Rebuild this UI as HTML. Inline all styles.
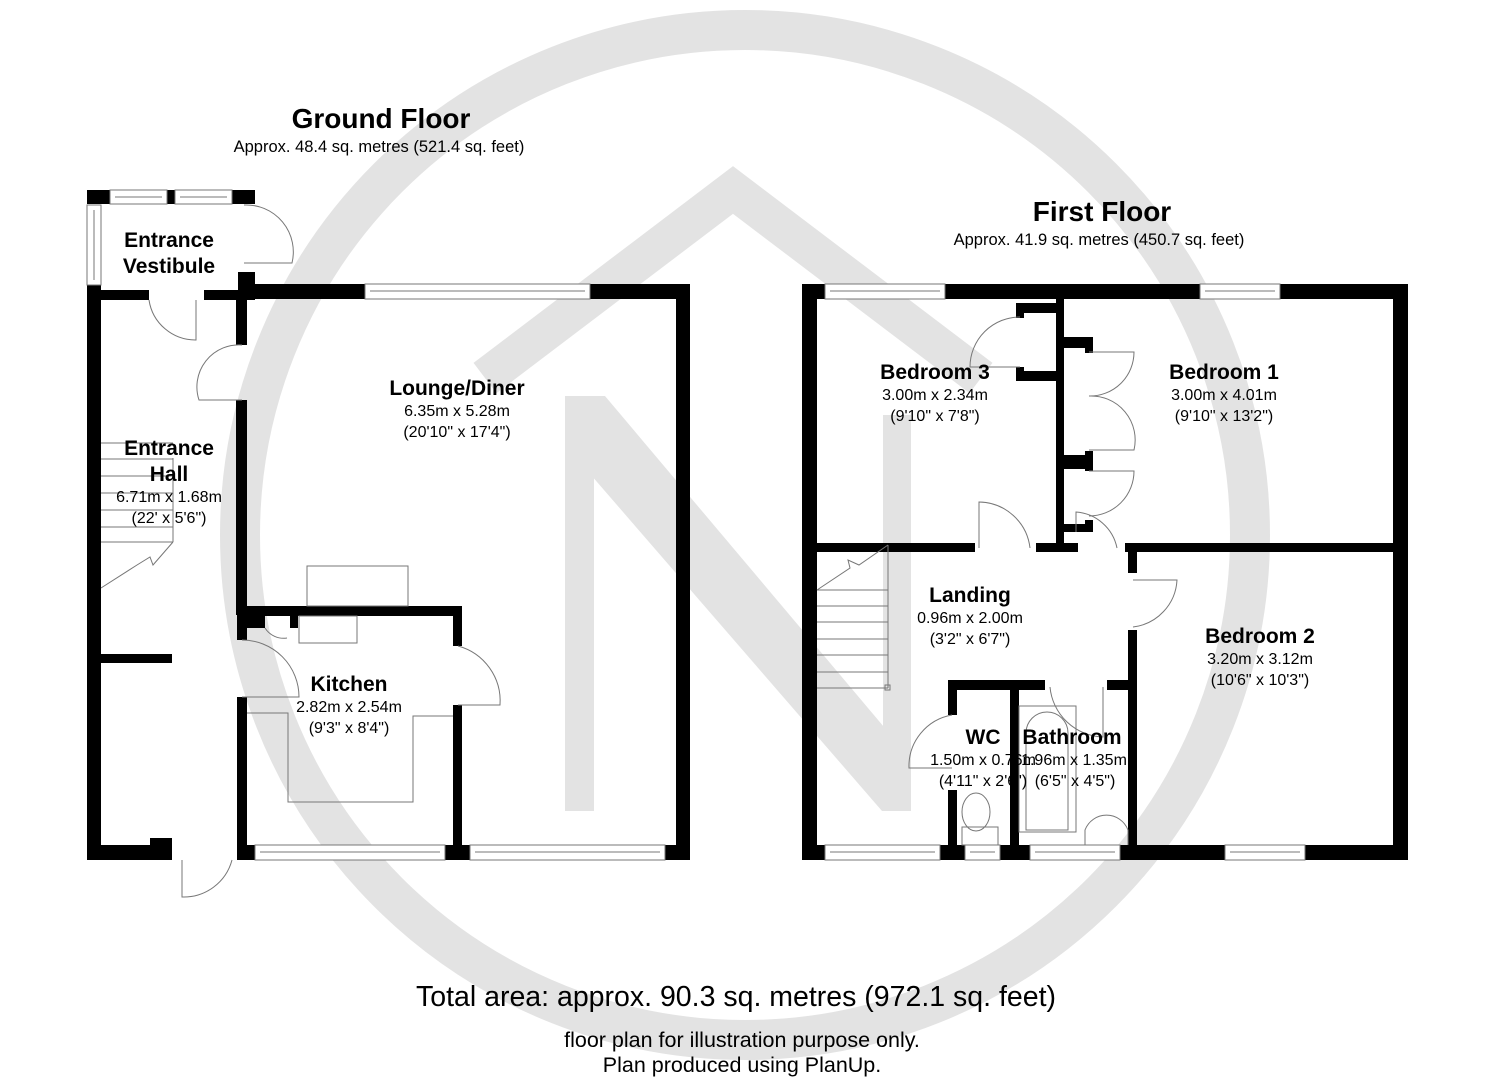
<!DOCTYPE html>
<html><head><meta charset="utf-8"><style>
html,body{margin:0;padding:0;background:#fff}
svg{display:block}
text{font-family:"Liberation Sans",Arial,sans-serif;fill:#000}
.b{font-weight:bold;font-size:21px}
.d{font-size:16px}
.w{fill:#000}
.win{fill:#fff;stroke:#777;stroke-width:1}
.l{fill:none;stroke:#777;stroke-width:1}
</style></head><body>
<svg width="1485" height="1080" viewBox="0 0 1485 1080" xmlns="http://www.w3.org/2000/svg">
<!-- watermark -->
<circle cx="745" cy="535" r="505" fill="none" stroke="#e3e3e3" stroke-width="40"/>
<g fill="#e3e3e3">
<polyline points="485,378 733,190 981,378" fill="none" stroke="#e3e3e3" stroke-width="38"/>
<rect x="565" y="396" width="29" height="415"/>
<rect x="883" y="415" width="28" height="396"/>
<polygon points="565,396 605,396 911,759 911,811 882,811 565,445"/>
</g>

<!-- titles -->
<text x="381" y="128" text-anchor="middle" font-size="28" font-weight="bold">Ground Floor</text>
<text x="379" y="152" text-anchor="middle" font-size="16.5">Approx. 48.4 sq. metres (521.4 sq. feet)</text>
<text x="1102" y="221" text-anchor="middle" font-size="28" font-weight="bold">First Floor</text>
<text x="1099" y="245" text-anchor="middle" font-size="16.5">Approx. 41.9 sq. metres (450.7 sq. feet)</text>
<text x="736" y="1006" text-anchor="middle" font-size="28.5">Total area: approx. 90.3 sq. metres (972.1 sq. feet)</text>
<text x="742" y="1047" text-anchor="middle" font-size="21.5">floor plan for illustration purpose only.</text>
<text x="742" y="1072" text-anchor="middle" font-size="21.5">Plan produced using PlanUp.</text>

<!-- ===== GROUND FLOOR ===== -->
<g class="w">
<rect x="87" y="190" width="23" height="14"/>
<rect x="167" y="190" width="8" height="14"/>
<rect x="232" y="190" width="23" height="14"/>
<rect x="87" y="285" width="14" height="575"/>
<rect x="101" y="290" width="48" height="10"/>
<rect x="204" y="290" width="34" height="10"/>
<rect x="238" y="272" width="17" height="28"/>
<rect x="238" y="284" width="127" height="15"/>
<rect x="590" y="284" width="100" height="15"/>
<rect x="676" y="284" width="14" height="576"/>
<rect x="236" y="290" width="11" height="55"/>
<rect x="236" y="400" width="11" height="215"/>
<rect x="237" y="606" width="225" height="10"/>
<rect x="453" y="606" width="9" height="40"/>
<rect x="453" y="705" width="9" height="155"/>
<rect x="237" y="615" width="10" height="25"/>
<rect x="237" y="697" width="10" height="163"/>
<rect x="240" y="845" width="15" height="15"/>
<rect x="445" y="845" width="25" height="15"/>
<rect x="665" y="845" width="25" height="15"/>
<rect x="87" y="845" width="70" height="15"/>
<rect x="150" y="838" width="22" height="22"/>
<rect x="101" y="654" width="71" height="9"/>
<rect x="247" y="616" width="18" height="12"/>
<rect x="290" y="616" width="8" height="12"/>
</g>
<rect class="win" x="110" y="190" width="57" height="14"/><line class="l" x1="115" y1="197" x2="162" y2="197"/>
<rect class="win" x="175" y="190" width="57" height="14"/><line class="l" x1="180" y1="197" x2="227" y2="197"/>
<rect class="win" x="87" y="205" width="14" height="80"/><line class="l" x1="94" y1="210" x2="94" y2="280"/>
<rect class="win" x="365" y="284" width="225" height="15"/><line class="l" x1="370" y1="291" x2="585" y2="291"/>
<rect class="win" x="255" y="845" width="190" height="15"/><line class="l" x1="260" y1="852" x2="440" y2="852"/>
<rect class="win" x="470" y="845" width="195" height="15"/><line class="l" x1="475" y1="852" x2="660" y2="852"/>
<path class="l" d="M244 205 A47 47 0 0 1 292 263 L244 263"/>
<path class="l" d="M149 300 A47 47 0 0 0 196 340 L196 300"/>
<path class="l" d="M242 345 A42 42 0 0 0 199 400 L242 400"/>
<path class="l" d="M242 640 A57 57 0 0 1 299 697 L242 697"/>
<path class="l" d="M458 646 A57 57 0 0 1 500 705 L458 705"/>
<path class="l" d="M182 860 L182 897 A50 50 0 0 0 232 860"/>
<path class="l" d="M265 628 A22 22 0 0 0 287 638"/>
<rect class="l" x="307" y="566" width="101" height="40"/>
<rect class="l" x="299" y="616" width="58" height="27"/>
<polyline class="l" points="247,713 288,713 288,802 413,802 413,716 453,716"/>
<g class="l">
<line x1="101" y1="443" x2="173" y2="443"/><line x1="101" y1="459" x2="173" y2="459"/>
<line x1="101" y1="476" x2="173" y2="476"/><line x1="101" y1="493" x2="173" y2="493"/>
<line x1="101" y1="510" x2="173" y2="510"/><line x1="101" y1="527" x2="173" y2="527"/>
<line x1="101" y1="542" x2="173" y2="542"/>
<line x1="173" y1="458" x2="173" y2="542"/>
<polyline points="173,542 153,565 150,557 137,565 101,588"/>
</g>
<text class="b" x="169" y="247" text-anchor="middle">Entrance</text>
<text class="b" x="169" y="273" text-anchor="middle">Vestibule</text>
<text class="b" x="169" y="455" text-anchor="middle">Entrance</text>
<text class="b" x="169" y="481" text-anchor="middle">Hall</text>
<text class="d" x="169" y="502" text-anchor="middle">6.71m x 1.68m</text>
<text class="d" x="169" y="523" text-anchor="middle">(22' x 5'6")</text>
<text class="b" x="457" y="395" text-anchor="middle">Lounge/Diner</text>
<text class="d" x="457" y="416" text-anchor="middle">6.35m x 5.28m</text>
<text class="d" x="457" y="437" text-anchor="middle">(20'10" x 17'4")</text>
<text class="b" x="349" y="691" text-anchor="middle">Kitchen</text>
<text class="d" x="349" y="712" text-anchor="middle">2.82m x 2.54m</text>
<text class="d" x="349" y="733" text-anchor="middle">(9'3" x 8'4")</text>

<!-- ===== FIRST FLOOR ===== -->
<g class="w">
<rect x="802" y="284" width="23" height="15"/>
<rect x="945" y="284" width="255" height="15"/>
<rect x="1280" y="284" width="128" height="15"/>
<rect x="802" y="284" width="15" height="576"/>
<rect x="1393" y="284" width="15" height="576"/>
<rect x="802" y="845" width="23" height="15"/>
<rect x="940" y="845" width="25" height="15"/>
<rect x="1000" y="845" width="30" height="15"/>
<rect x="1120" y="845" width="105" height="15"/>
<rect x="1305" y="845" width="103" height="15"/>
<rect x="1056" y="299" width="8" height="252"/>
<rect x="1016" y="303" width="40" height="10"/>
<rect x="1016" y="303" width="8" height="15"/>
<rect x="1016" y="371" width="40" height="10"/>
<rect x="1016" y="367" width="8" height="14"/>
<rect x="1064" y="337" width="29" height="11"/>
<rect x="1085" y="337" width="8" height="16"/>
<rect x="1064" y="455" width="29" height="14"/>
<rect x="1085" y="451" width="8" height="20"/>
<rect x="1064" y="524" width="29" height="8"/>
<rect x="1085" y="520" width="8" height="12"/>
<rect x="817" y="543" width="158" height="9"/>
<rect x="1036" y="543" width="42" height="9"/>
<rect x="1125" y="543" width="283" height="9"/>
<rect x="1128" y="545" width="9" height="28"/>
<rect x="1128" y="630" width="9" height="230"/>
<rect x="948" y="680" width="97" height="10"/>
<rect x="1107" y="680" width="28" height="10"/>
<rect x="948" y="680" width="9" height="35"/>
<rect x="948" y="790" width="9" height="70"/>
<rect x="1010" y="680" width="9" height="180"/>
</g>
<rect class="win" x="825" y="284" width="120" height="15"/><line class="l" x1="830" y1="291" x2="940" y2="291"/>
<rect class="win" x="1200" y="284" width="80" height="15"/><line class="l" x1="1205" y1="291" x2="1275" y2="291"/>
<rect class="win" x="825" y="845" width="115" height="15"/><line class="l" x1="830" y1="852" x2="935" y2="852"/>
<rect class="win" x="965" y="845" width="35" height="15"/><line class="l" x1="970" y1="852" x2="995" y2="852"/>
<rect class="win" x="1030" y="845" width="90" height="15"/><line class="l" x1="1035" y1="852" x2="1115" y2="852"/>
<rect class="win" x="1225" y="845" width="80" height="15"/><line class="l" x1="1230" y1="852" x2="1300" y2="852"/>
<path class="l" d="M1020 317 A50 50 0 0 0 970 367 L1020 367"/>
<path class="l" d="M1089 352 L1134 352 A44 44 0 0 1 1089 396 A44 44 0 0 1 1134 450 L1089 450"/>
<path class="l" d="M1089 471 L1134 471 A45 45 0 0 1 1089 516"/>
<path class="l" d="M979 548 L979 502 A52 52 0 0 1 1030 548"/>
<path class="l" d="M1076 532 L1076 512 A45 45 0 0 1 1117 548"/>
<path class="l" d="M1133 580 L1177 580 A50 50 0 0 1 1133 627"/>
<path class="l" d="M952 715 A52 52 0 0 0 909 768 L952 768"/>
<path class="l" d="M1050 687 A55 55 0 0 0 1103 737 L1103 687"/>
<g class="l">
<line x1="817" y1="590" x2="888" y2="590"/><line x1="817" y1="606" x2="888" y2="606"/>
<line x1="817" y1="622" x2="888" y2="622"/><line x1="817" y1="639" x2="888" y2="639"/>
<line x1="817" y1="655" x2="888" y2="655"/><line x1="817" y1="672" x2="888" y2="672"/>
<line x1="817" y1="688" x2="888" y2="688"/>
<line x1="888" y1="545" x2="888" y2="688"/>
<polyline points="817,590 850,568 848,560 859,565 888,545"/>
<rect x="885" y="685" width="5" height="5"/>
</g>
<rect class="l" x="1019" y="706" width="57" height="126"/>
<path class="l" d="M1026 830 L1026 733 A21 21 0 0 1 1068 733 L1068 830 Z"/>
<ellipse class="l" cx="976" cy="812" rx="14" ry="19"/>
<rect class="l" x="962" y="827" width="36" height="18"/>
<path class="l" d="M1085 845 L1085 830 A23 23 0 0 1 1128 830 L1128 845"/>
<text class="b" x="935" y="379" text-anchor="middle">Bedroom 3</text>
<text class="d" x="935" y="400" text-anchor="middle">3.00m x 2.34m</text>
<text class="d" x="935" y="421" text-anchor="middle">(9'10" x 7'8")</text>
<text class="b" x="1224" y="379" text-anchor="middle">Bedroom 1</text>
<text class="d" x="1224" y="400" text-anchor="middle">3.00m x 4.01m</text>
<text class="d" x="1224" y="421" text-anchor="middle">(9'10" x 13'2")</text>
<text class="b" x="970" y="602" text-anchor="middle">Landing</text>
<text class="d" x="970" y="623" text-anchor="middle">0.96m x 2.00m</text>
<text class="d" x="970" y="644" text-anchor="middle">(3'2" x 6'7")</text>
<text class="b" x="1260" y="643" text-anchor="middle">Bedroom 2</text>
<text class="d" x="1260" y="664" text-anchor="middle">3.20m x 3.12m</text>
<text class="d" x="1260" y="685" text-anchor="middle">(10'6" x 10'3")</text>
<text class="b" x="983" y="744" text-anchor="middle">WC</text>
<text class="d" x="983" y="765" text-anchor="middle">1.50m x 0.76m</text>
<text class="d" x="983" y="786" text-anchor="middle">(4'11" x 2'6")</text>
<text class="b" x="1072" y="744" text-anchor="middle">Bathroom</text>
<text class="d" x="1074" y="765" text-anchor="middle">1.96m x 1.35m</text>
<text class="d" x="1075" y="786" text-anchor="middle">(6'5" x 4'5")</text>
</svg>
</body></html>
